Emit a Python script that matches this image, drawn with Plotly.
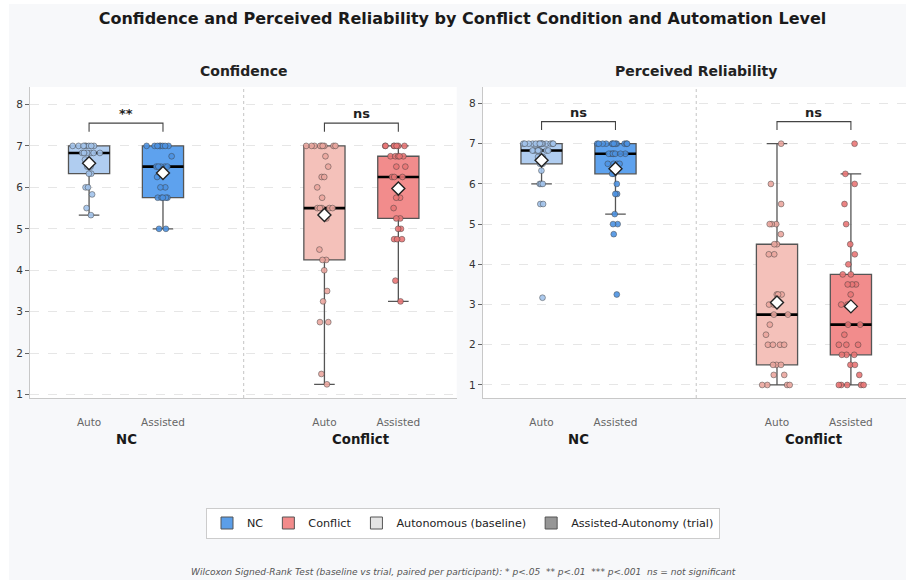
import numpy as np
import plotly.graph_objects as go

# ---------------- data ----------------
conditions = ["NC", "Conflict"]
levels = ["Auto", "Assisted"]
panel_titles = ["Confidence", "Perceived Reliability"]

conf_nc_auto = [5.33, 5.5, 5.83, 6.0, 6.0, 6.33, 6.33, 6.5, 6.5, 6.67,
                6.83, 6.83, 6.83, 6.83, 6.83, 6.83,
                7.0, 7.0, 7.0, 7.0, 7.0, 7.0, 7.0, 7.0]
conf_nc_assisted = [5.0, 5.0, 5.75, 5.75, 5.75, 5.75, 5.75, 6.0, 6.0, 6.25,
                    6.5, 6.5, 6.5, 6.5, 6.5, 6.75,
                    7.0, 7.0, 7.0, 7.0, 7.0, 7.0, 7.0, 7.0]
conf_conflict_auto = [1.25, 1.5, 2.75, 2.75, 3.25, 3.5, 4.0, 4.25, 4.25, 4.5, 5.25,
                      5.5, 5.5, 5.5, 5.5, 5.5, 5.75, 6.0, 6.25, 6.25, 6.5, 6.75,
                      7.0, 7.0, 7.0, 7.0, 7.0, 7.0, 7.0, 7.0, 7.0]
conf_conflict_assisted = [3.25, 3.75, 4.75, 4.75, 4.75, 5.0, 5.0, 5.25, 5.25, 5.5,
                          5.75, 5.75, 6.25, 6.25, 6.25, 6.5, 6.5,
                          6.75, 6.75, 6.75, 6.75, 6.75,
                          7.0, 7.0, 7.0, 7.0, 7.0, 7.0, 7.0]

rel_nc_auto = [3.17, 5.5, 5.5, 6.0, 6.0, 6.0, 6.33, 6.5, 6.5, 6.67, 6.67,
               6.83, 6.83, 6.83, 6.83, 6.83, 6.83, 6.83, 6.83,
               7.0, 7.0, 7.0, 7.0, 7.0, 7.0, 7.0, 7.0, 7.0, 7.0, 7.0, 7.0, 7.0, 7.0]
rel_nc_assisted = [3.25, 4.75, 5.0, 5.0, 5.25, 5.75, 5.75, 6.0, 6.25, 6.25,
                   6.5, 6.5, 6.5, 6.5,
                   6.75, 6.75, 6.75, 6.75, 6.75, 6.75, 6.75,
                   7.0, 7.0, 7.0, 7.0, 7.0, 7.0, 7.0, 7.0, 7.0, 7.0, 7.0, 7.0]
rel_conflict_auto = [1.0, 1.0, 1.0, 1.0, 1.25, 1.25, 1.5, 1.5, 1.5, 2.0, 2.0, 2.0, 2.0,
                     2.25, 2.5, 2.75, 2.75, 3.0, 3.0, 3.25, 3.25, 3.25, 4.25, 4.25,
                     4.5, 4.5, 4.75, 5.0, 5.0, 5.0, 5.5, 6.0, 7.0]
rel_conflict_assisted = [1.0, 1.0, 1.0, 1.0, 1.0, 1.25, 1.5, 1.5, 1.75, 1.75, 1.75,
                         2.0, 2.0, 2.0, 2.25, 2.5, 2.5, 3.0, 3.0, 3.25, 3.5, 3.5, 3.5,
                         3.75, 3.75, 4.0, 4.25, 4.5, 5.0, 5.5, 6.0, 6.25, 7.0]

panel_data = [
    [conf_nc_auto, conf_nc_assisted, conf_conflict_auto, conf_conflict_assisted],
    [rel_nc_auto, rel_nc_assisted, rel_conflict_auto, rel_conflict_assisted],
]
significance = [["**", "ns"], ["ns", "ns"]]
y_ticks = [1, 2, 3, 4, 5, 6, 7, 8]

legend_names = ["NC", "Conflict", "Autonomous (baseline)", "Assisted-Autonomy (trial)"]

footnote = ("Wilcoxon Signed-Rank Test (baseline vs trial, paired per participant): "
            "* p&lt;.05 \u00a0** p&lt;.01 \u00a0*** p&lt;.001 \u00a0ns = not significant")

# ---------------- style ----------------
FONT = "DejaVu Sans"
OFF = 0.157
BOXW = 0.175
box_fill = ["#b0cdf0", "#5ea2ee", "#f4c1ba", "#f28c8c"]
pt_fill = ["#a3c4ec", "#4d93e3", "#eca79f", "#ea7676"]
legend_fill = ["#5b9ee8", "#f28b8b", "#e4e4e4", "#969696"]
BG = "#f7f8fa"

W, H = 906, 580
ML, MR, MT, MB = 30, 0, 87, 182
PW = W - ML - MR
PH = H - MT - MB

def px_x(px):
    return (px - ML) / PW

def px_y(py):
    return (H - MB - py) / PH

domains = [[0.0, px_x(456.7)], [px_x(482.7), 1.0]]
x_ranges = [[-0.408, 1.405], [-0.407, 1.391]]
y_ranges = [[0.92, 8.42], [0.676, 8.41]]
title_centers = [243.5, 696]

fig = go.Figure()

def stats(v):
    a = np.asarray(v, dtype=float)
    q1, med, q3 = np.percentile(a, [25, 50, 75])
    iqr = q3 - q1
    lo = a[a >= q1 - 1.5 * iqr - 1e-9].min()
    hi = a[a <= q3 + 1.5 * iqr + 1e-9].max()
    return q1, med, q3, lo, hi, a.mean()

for p in range(2):
    xa = "x" if p == 0 else "x2"
    ya = "y" if p == 0 else "y2"
    positions = []
    for ci in range(2):
        for li in range(2):
            positions.append(ci + (-OFF if li == 0 else OFF))
    for g in range(4):
        vals = panel_data[p][g]
        pos = positions[g]
        q1, med, q3, lo, hi, mean = stats(vals)
        fig.add_trace(go.Box(x=[pos], q1=[q1], median=[med], q3=[q3],
                             lowerfence=[lo], upperfence=[hi],
                             width=BOXW, fillcolor=box_fill[g],
                             line=dict(color="#555555", width=1.3),
                             whiskerwidth=0.5, boxpoints=False,
                             xaxis=xa, yaxis=ya, showlegend=False, hoverinfo="skip"))
        fig.add_trace(go.Box(x=[pos], q1=[med], median=[med], q3=[med],
                             lowerfence=[med], upperfence=[med],
                             width=BOXW, fillcolor="rgba(0,0,0,0)",
                             line=dict(color="#000000", width=2.6),
                             whiskerwidth=0, boxpoints=False,
                             xaxis=xa, yaxis=ya, showlegend=False, hoverinfo="skip"))
        fig.add_trace(go.Box(x=[pos] * len(vals), y=vals,
                             width=BOXW, fillcolor="rgba(0,0,0,0)",
                             line=dict(color="rgba(0,0,0,0)", width=0),
                             boxpoints="all", jitter=0.95, pointpos=0,
                             marker=dict(color=pt_fill[g], size=5.8, opacity=0.9,
                                         line=dict(color="rgba(60,60,60,0.75)", width=0.7)),
                             xaxis=xa, yaxis=ya, showlegend=False, hoverinfo="skip"))
        fig.add_trace(go.Scatter(x=[pos], y=[mean], mode="markers",
                                 marker=dict(symbol="diamond", size=10, color="white",
                                             line=dict(color="#222222", width=1.4)),
                                 xaxis=xa, yaxis=ya, showlegend=False, hoverinfo="skip"))
    # significance brackets
    for ci in range(2):
        xl, xr = positions[2 * ci], positions[2 * ci + 1]
        fig.add_trace(go.Scatter(x=[xl, xl, xr, xr], y=[7.34, 7.55, 7.55, 7.34],
                                 mode="lines", line=dict(color="#444444", width=1.1),
                                 xaxis=xa, yaxis=ya, showlegend=False, hoverinfo="skip"))
        fig.add_annotation(x=(xl + xr) / 2, y=7.77, xref=xa, yref=ya,
                           text="<b>%s</b>" % significance[p][ci], showarrow=False,
                           font=dict(family=FONT, size=13, color="#222222"),
                           xanchor="center", yanchor="middle")
        fig.add_annotation(x=ci, y=px_y(439), xref=xa, yref="paper",
                           text="<b>%s</b>" % conditions[ci], showarrow=False,
                           font=dict(family=FONT, size=13.3, color="#1a1a1a"),
                           xanchor="center", yanchor="middle")
    # divider
    fig.add_shape(type="line", x0=0.5, x1=0.5, y0=0, y1=1, xref=xa,
                  yref=("y domain" if p == 0 else "y2 domain"),
                  line=dict(color="#c4c4c4", width=1, dash="dot"))
    # panel title
    fig.add_annotation(x=px_x(title_centers[p]), y=px_y(71), xref="paper", yref="paper",
                       text="<b>%s</b>" % panel_titles[p], showarrow=False,
                       font=dict(family=FONT, size=14, color="#222222"),
                       xanchor="center", yanchor="middle")

    ax = dict(domain=domains[p], range=x_ranges[p], tickmode="array",
              tickvals=positions, ticktext=levels * 2, showgrid=False, zeroline=False,
              showline=True, linecolor="#c8c8c8", linewidth=1, ticks="",
              ticklabelstandoff=14, tickfont=dict(family=FONT, size=10.5, color="#666666"),
              anchor=ya)
    ay = dict(domain=[0, 1], range=y_ranges[p], tickmode="array", tickvals=y_ticks,
              showgrid=True, gridcolor="#e6e6e6", gridwidth=0.8, griddash="dash",
              zeroline=False, showline=True, linecolor="#c8c8c8", linewidth=1,
              ticks="outside", ticklen=4, tickcolor="#666666",
              tickfont=dict(family=FONT, size=10.5, color="#333333"), anchor=xa)
    if p == 0:
        fig.update_layout(xaxis=ax, yaxis=ay)
    else:
        fig.update_layout(xaxis2=ax, yaxis2=ay)

# legend entries
for name, col in zip(legend_names, legend_fill):
    fig.add_trace(go.Bar(x=[None], y=[None], name=name,
                         marker=dict(color=col, line=dict(color="#555555", width=1))))

# footnote
fig.add_annotation(x=px_x(463), y=px_y(572), xref="paper", yref="paper",
                   text="<i>%s</i>" % footnote, showarrow=False,
                   font=dict(family=FONT, size=9.05, color="#555555"),
                   xanchor="center", yanchor="middle")

# white strips at the page edge
fig.add_shape(type="rect", xref="paper", yref="paper", x0=px_x(0), x1=px_x(9),
              y0=px_y(H), y1=px_y(0), fillcolor="white", line=dict(width=0))
fig.add_shape(type="rect", xref="paper", yref="paper", x0=px_x(0), x1=px_x(W),
              y0=px_y(4), y1=px_y(0), fillcolor="white", line=dict(width=0))

fig.update_layout(
    width=W, height=H,
    margin=dict(l=ML, r=MR, t=MT, b=MB),
    paper_bgcolor=BG, plot_bgcolor="white",
    boxmode="overlay",
    font=dict(family=FONT, color="#222222"),
    title=dict(text="<b>Confidence and Perceived Reliability by Conflict Condition and Automation Level</b>",
               x=462.5 / W, xref="container", xanchor="center",
               y=1 - 18 / H, yref="container", yanchor="middle",
               font=dict(family=FONT, size=16, color="#1a1a1a")),
    legend=dict(orientation="h", x=px_x(463), xanchor="center", y=px_y(523), yanchor="middle",
                bgcolor="white", bordercolor="#cccccc", borderwidth=1,
                font=dict(family=FONT, size=11.2, color="#222222")),
)

fig.write_html("out.html")
